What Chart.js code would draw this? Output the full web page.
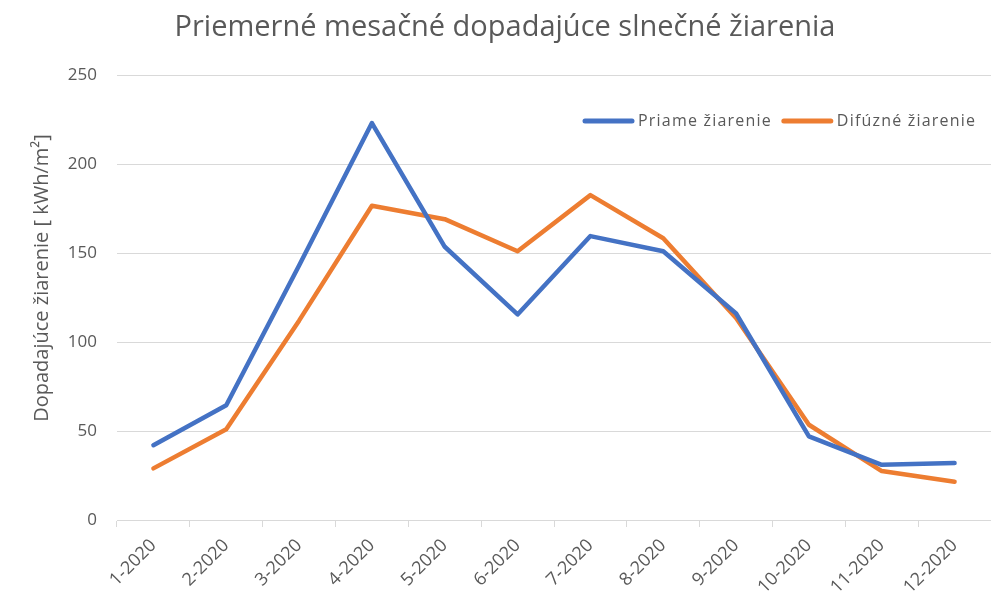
<!DOCTYPE html>
<html><head><meta charset="utf-8">
<script src="https://cdn.jsdelivr.net/npm/chart.js@4/dist/chart.umd.min.js"></script>
<style>html,body{margin:0;padding:0;background:#fff}#wrap{width:991px;height:609px}</style>
</head><body><div id="wrap"><canvas id="c" width="991" height="609"></canvas></div>
<script>
const categories = ['1-2020','2-2020','3-2020','4-2020','5-2020','6-2020','7-2020','8-2020','9-2020','10-2020','11-2020','12-2020'];
const directRadiation = [42, 64.5, 143, 223, 153.5, 115.5, 159.5, 151, 116, 47, 31, 32];
const diffuseRadiation = [29, 51, 112, 176.5, 169, 151, 182.5, 158.3, 113.5, 53.5, 27.5, 21.5];
const seriesNames = ['Priame žiarenie', 'Difúzné žiarenie'];
const yTickValues = [0, 50, 100, 150, 200, 250];
const chartTitle = 'Priemerné mesačné dopadajúce slnečné žiarenia';
const yAxisTitle = 'Dopadajúce žiarenie [ kWh/m²]';

const FONT = '"Open Sans", sans-serif';
const TXT = '#595959';

const decor = {
  id: 'decor',
  afterDraw(chart) {
    const ctx = chart.ctx;
    ctx.save();
    ctx.fillStyle = TXT;
    ctx.textAlign = 'center';
    ctx.textBaseline = 'middle';
    ctx.font = '29px ' + FONT;
    ctx.fillText(chartTitle, 505, 28);
    ctx.save();
    ctx.translate(42, 278);
    ctx.rotate(-Math.PI / 2);
    ctx.font = '20px ' + FONT;
    ctx.fillText(yAxisTitle, 0, 0);
    ctx.restore();
    // legend
    ctx.font = '16px ' + FONT;
    ctx.letterSpacing = '1.2px';
    ctx.textAlign = 'left';
    let x = 585;
    const y = 121;
    chart.data.datasets.forEach((ds) => {
      ctx.strokeStyle = ds.borderColor;
      ctx.lineWidth = 5;
      ctx.lineCap = 'round';
      ctx.beginPath();
      ctx.moveTo(x, y);
      ctx.lineTo(x + 47, y);
      ctx.stroke();
      ctx.fillStyle = TXT;
      ctx.fillText(ds.label, x + 53, y);
      x += 53 + ctx.measureText(ds.label).width + 12;
    });
    ctx.restore();
  }
};

new Chart(document.getElementById('c'), {
  type: 'line',
  data: {
    labels: categories,
    datasets: [
      { label: seriesNames[0], data: directRadiation, borderColor: '#4472C4', backgroundColor: '#4472C4', borderWidth: 4.5, pointRadius: 0, tension: 0, borderCapStyle: 'round', borderJoinStyle: 'round' },
      { label: seriesNames[1], data: diffuseRadiation, borderColor: '#ED7D31', backgroundColor: '#ED7D31', borderWidth: 4.5, pointRadius: 0, tension: 0, borderCapStyle: 'round', borderJoinStyle: 'round' }
    ]
  },
  options: {
    responsive: false,
    animation: false,
    layout: { padding: { top: 75, left: 0, right: 0, bottom: 0 } },
    plugins: { legend: { display: false }, title: { display: false }, tooltip: { enabled: false } },
    scales: {
      x: {
        offset: true,
        grid: { offset: true, drawOnChartArea: false, drawTicks: true, tickLength: 7, color: '#d9d9d9' },
        border: { display: true, color: '#d9d9d9', width: 1 },
        ticks: { color: TXT, font: { family: FONT, size: 18 }, minRotation: 45, maxRotation: 45, padding: 8 },
        afterFit: s => { s.height = 89; s.paddingLeft = 0; s.paddingRight = 0; }
      },
      y: {
        min: 0, max: 250,
        afterBuildTicks: s => { s.ticks = yTickValues.map(v => ({ value: v })); },
        grid: { color: '#d9d9d9', drawTicks: false },
        border: { display: false },
        ticks: { color: TXT, font: { family: FONT, size: 17 }, padding: 20 },
        afterFit: s => { s.width = 117; s.paddingTop = 0; s.paddingBottom = 0; }
      }
    }
  },
  plugins: [decor]
});
</script></body></html>
